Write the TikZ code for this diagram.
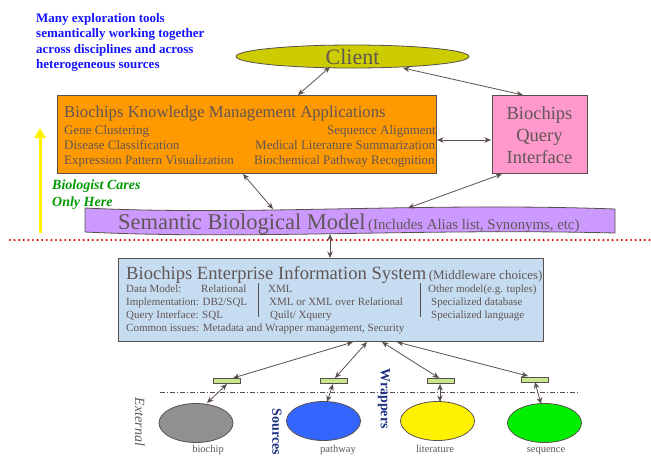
\documentclass[tikz,border=0pt]{standalone}
\usepackage{fontspec}
\setmainfont{Liberation Serif}
\usetikzlibrary{arrows.meta,shapes.geometric}
\definecolor{edgegray}{RGB}{90,80,75}
\definecolor{txtgray}{RGB}{96,86,86}
\definecolor{clientfill}{RGB}{204,204,0}
\definecolor{orangefill}{RGB}{255,153,0}
\definecolor{pinkfill}{RGB}{255,153,204}
\definecolor{semfill}{RGB}{204,153,255}
\definecolor{eisfill}{RGB}{198,220,240}
\definecolor{wrapfill}{RGB}{200,230,140}
\definecolor{topblue}{RGB}{20,20,255}
\definecolor{caregreen}{RGB}{0,153,0}
\definecolor{navytxt}{RGB}{30,50,130}
\definecolor{dotred}{RGB}{230,0,0}
\newcommand{\fs}[1]{\fontsize{#1}{#1}\selectfont}
\tikzset{
  conn/.style={draw=edgegray, line width=0.8pt, {Stealth[length=6.5pt,width=5.5pt]}-{Stealth[length=6.5pt,width=5.5pt]}},
  boxshape/.style={draw=edgegray, line width=0.8pt, inner sep=0pt},
  gtxt/.style={text=txtgray, inner sep=0pt},
  introtxt/.style={anchor=base west, inner sep=0pt, text=topblue, font=\bfseries\fs{13}},
  wrapbox/.style={draw=edgegray, line width=0.6pt, fill=wrapfill, minimum width=27pt, minimum height=5pt, inner sep=0pt},
  srcell/.style={draw=edgegray, line width=0.8pt, ellipse, minimum width=74pt, minimum height=39pt, inner sep=0pt},
  srclabel/.style={text=txtgray, inner sep=0pt, font=\fs{10.5}},
}
\begin{document}
\begin{tikzpicture}[x=1pt,y=-1pt]
\useasboundingbox (0,0) rectangle (651,456);
\clip (0,0) rectangle (651,456);

% top blue text
\node[introtxt] (intro1) at (36,22) {Many exploration tools};
\node[introtxt] (intro2) at (36,37.5) {semantically working together};
\node[introtxt] (intro3) at (36,53) {across disciplines and across};
\node[introtxt] (intro4) at (36,68.5) {heterogeneous sources};

% Client
\node[boxshape, ellipse, fill=clientfill, minimum width=233pt, minimum height=23pt] (client) at (352.5,56.5) {};
\node[gtxt, font=\fs{22}] (clienttxt) at (352.5,57) {Client};

% Orange box
\node[boxshape, fill=orangefill, minimum width=379pt, minimum height=78pt] (kma) at (246.5,134) {};
\node[gtxt, anchor=base west, font=\fs{16.7}] (kmatitle) at (64,117) {Biochips Knowledge Management Applications};
\node[gtxt, anchor=base west, font=\fs{13}] (k1) at (64,134) {Gene Clustering};
\node[gtxt, anchor=base west, font=\fs{13}] (k2) at (64,149) {Disease Classification};
\node[gtxt, anchor=base west, font=\fs{13}] (k3) at (64,164) {Expression Pattern Visualization};
\node[gtxt, anchor=base east, font=\fs{13}] (k4) at (436,134) {Sequence Alignment};
\node[gtxt, anchor=base west, font=\fs{13}] (k5) at (255,149) {Medical Literature Summarization};
\node[gtxt, anchor=base west, font=\fs{13}] (k6) at (254,164) {Biochemical Pathway Recognition};

% Pink box
\node[boxshape, fill=pinkfill, minimum width=95pt, minimum height=78pt] (bqi) at (539.5,134) {};
\node[gtxt, anchor=base, font=\fs{18.5}] (q1) at (539.5,119) {Biochips};
\node[gtxt, anchor=base, font=\fs{18.5}] (q2) at (539.5,141) {Query};
\node[gtxt, anchor=base, font=\fs{18.5}] (q3) at (539.5,163) {Interface};

% yellow arrow
\coordinate (ybot) at (40,233);
\coordinate (ytop) at (40,128);
\draw[yellow, line width=3pt, -{Triangle[length=10pt,width=11pt]}] (ybot) -- (ytop);

% green text
\node[anchor=base west, inner sep=0pt, text=caregreen, font=\bfseries\itshape\fs{14}] (care1) at (52,189) {Biologist Cares};
\node[anchor=base west, inner sep=0pt, text=caregreen, font=\bfseries\itshape\fs{14}] (care2) at (52,206) {Only Here};

% Semantic model shape
\filldraw[fill=semfill, draw=edgegray, line width=0.8pt]
  (85,208) .. controls (250,216) and (420,202) .. (615,209) -- (615,233)
  .. controls (420,228) and (250,240) .. (85,232) -- cycle;
\node[gtxt, anchor=base west] (semtxt) at (118,229) {{\fs{22.5}Semantic Biological Model} {\fs{14.8}(Includes Alias list, Synonyms, etc)}};

% red dotted line
\coordinate (redL) at (10,240);
\coordinate (redR) at (651,240);
\draw[dotred, line width=2.3pt, line cap=round, dash pattern=on 0pt off 4.6pt] (redL) -- (redR);

% EIS box
\node[boxshape, fill=eisfill, minimum width=425pt, minimum height=83pt] (eis) at (330.5,299.5) {};
\node[gtxt, anchor=base west] (eistitle) at (126,279) {{\fs{18.6}Biochips Enterprise Information System} {\fs{13}(Middleware choices)}};
\node[gtxt, anchor=base west, font=\fs{11}] (e1) at (126,292) {Data Model:};
\node[gtxt, anchor=base west, font=\fs{11}] (e1b) at (201,292) {Relational};
\node[gtxt, anchor=base west, font=\fs{11}] (e2) at (126,305) {Implementation: DB2/SQL};
\node[gtxt, anchor=base west, font=\fs{11}] (e3) at (126,318) {Query Interface: SQL};
\node[gtxt, anchor=base west, font=\fs{11}] (e4) at (126,331) {Common issues: Metadata and Wrapper management, Security};
\node[gtxt, anchor=base west, font=\fs{11}] (x1) at (268,292) {XML};
\node[gtxt, anchor=base west, font=\fs{11}] (x2) at (269,305) {XML or XML over Relational};
\node[gtxt, anchor=base west, font=\fs{11}] (x3) at (270,318) {Quilt/ Xquery};
\node[gtxt, anchor=base west, font=\fs{11}] (o1) at (428,292) {Other model(e.g. tuples)};
\node[gtxt, anchor=base west, font=\fs{11}] (o2) at (431,305) {Specialized database};
\node[gtxt, anchor=base west, font=\fs{11}] (o3) at (431,318) {Specialized language};
\coordinate (s1t) at (258,283); \coordinate (s1b) at (258,317);
\coordinate (s2t) at (420,283); \coordinate (s2b) at (420,317);
\draw[edgegray, line width=0.8pt] (s1t) -- (s1b);
\draw[edgegray, line width=0.8pt] (s2t) -- (s2b);

% wrappers
\node[wrapbox] (w1) at (226.5,381) {};
\node[wrapbox] (w2) at (334,381) {};
\node[wrapbox] (w3) at (440.5,381) {};
\node[wrapbox] (w4) at (534.5,379.5) {};

% dash-dot line
\coordinate (ddL) at (160,392);
\coordinate (ddR) at (580,392);
\draw[edgegray, line width=0.7pt, dash pattern=on 5pt off 2pt on 1pt off 2pt] (ddL) -- (ddR);

% sources
\node[srcell, fill={rgb,255:red,144;green,144;blue,144}] (biochip) at (196,423) {};
\node[srcell, fill={rgb,255:red,51;green,102;blue,255}] (pathway) at (323.5,421) {};
\node[srcell, fill=yellow] (literature) at (437.5,421) {};
\node[srcell, fill={rgb,255:red,0;green,238;blue,0}] (sequence) at (544.5,423) {};
\node[srclabel, anchor=base] (lb1) at (208,452) {biochip};
\node[srclabel, anchor=base] (lb2) at (338,452) {pathway};
\node[srclabel, anchor=base] (lb3) at (435,452) {literature};
\node[srclabel, anchor=base] (lb4) at (546,452) {sequence};

% rotated labels
\node[gtxt, rotate=-90, font=\itshape\fs{14}] (ext) at (140,422) {External};
\node[inner sep=0pt, rotate=-90, text=navytxt, font=\bfseries\fs{14}] (srcs) at (277,432) {Sources};
\node[inner sep=0pt, rotate=-90, text=navytxt, font=\bfseries\fs{14}] (wraps) at (384,398.5) {Wrappers};

% connector endpoints
\coordinate (c1a) at (330,67);  \coordinate (c1b) at (298,95);
\coordinate (c2a) at (403,68);  \coordinate (c2b) at (523,95);
\coordinate (c3a) at (437,140); \coordinate (c3b) at (491,140);
\coordinate (c4a) at (243,174); \coordinate (c4b) at (273,209);
\coordinate (c5a) at (502,174); \coordinate (c5b) at (408,208);
\coordinate (c6a) at (330,234); \coordinate (c6b) at (330,258);
\coordinate (e1a) at (353,342); \coordinate (e1b) at (233,378);
\coordinate (e2a) at (367,342); \coordinate (e2b) at (335,378);
\coordinate (e3a) at (382,342); \coordinate (e3b) at (439,378);
\coordinate (e4a) at (397,342); \coordinate (e4b) at (528,376);
\coordinate (f1a) at (227,384); \coordinate (f1b) at (207,403);
\coordinate (f2a) at (333,384); \coordinate (f2b) at (327,402);
\coordinate (f3a) at (440,384); \coordinate (f3b) at (440,402);
\coordinate (f4a) at (535,382); \coordinate (f4b) at (541,404);

\draw[conn] (c1a) -- (c1b);
\draw[conn] (c2a) -- (c2b);
\draw[conn] (c3a) -- (c3b);
\draw[conn] (c4a) -- (c4b);
\draw[conn] (c5a) -- (c5b);
\draw[conn] (c6a) -- (c6b);
\draw[conn] (e1a) -- (e1b);
\draw[conn] (e2a) -- (e2b);
\draw[conn] (e3a) -- (e3b);
\draw[conn] (e4a) -- (e4b);
\draw[conn] (f1a) -- (f1b);
\draw[conn] (f2a) -- (f2b);
\draw[conn] (f3a) -- (f3b);
\draw[conn] (f4a) -- (f4b);
\end{tikzpicture}
\end{document}
